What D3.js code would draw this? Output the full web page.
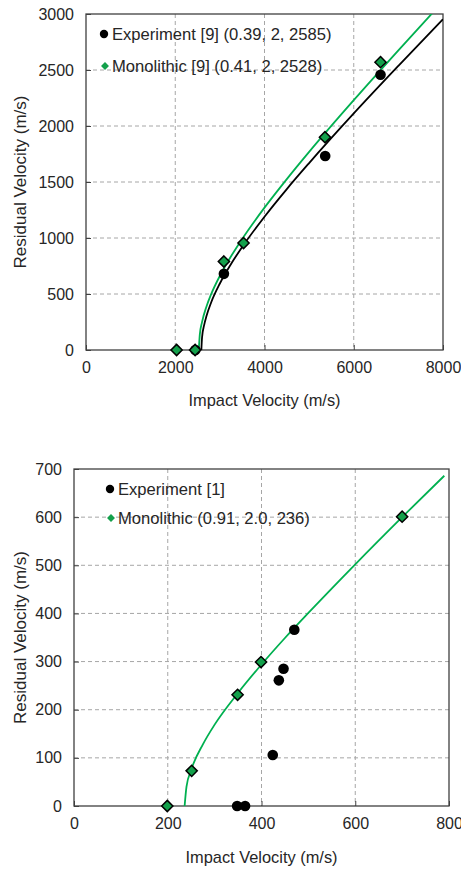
<!DOCTYPE html>
<html lang="en">
<head>
<meta charset="UTF-8">
<title>Residual velocity</title>
<script src="https://cdn.jsdelivr.net/npm/d3@7"></script>
<style>
    body { margin: 0; background: #fff; }
    svg text { font-family: "Liberation Sans", Arial, sans-serif; fill: #262626; }
    .grid line { stroke: #a6a6a6; stroke-dasharray: 4,3; stroke-width: 1; }
    .axis path, .axis line { stroke: #404040; }
    .axis text { font-size: 16px; }
</style>
</head>
<body>
<script>
// ---- top panel data ----
const topXTicks = [0, 2000, 4000, 6000, 8000];
const topYTicks = [0, 500, 1000, 1500, 2000, 2500, 3000];
const topExpVi = [2450, 3090, 5360, 6600];
const topExpVr = [0, 680, 1732, 2457];
const topMonoVi = [2030, 2445, 3090, 3530, 5355, 6600];
const topMonoVr = [0, 0, 790, 955, 1900, 2570];
// fit curves (Lambert-Jonas, legend params)
const topExpFitVi = [2585, 2600, 2650, 2700, 2800, 3000, 3250, 3500, 4000, 4500, 5000, 6000, 7000, 8000];
const topExpFitVr = [0, 109, 227, 304, 420, 594, 768, 920, 1190, 1437, 1669, 2112, 2537, 2953];
const topMonoFitVi = [2528, 2550, 2600, 2700, 2800, 3000, 3250, 3500, 4000, 4500, 5000, 6000, 7000, 8000];
const topMonoFitVr = [0, 137, 249, 389, 494, 662, 837, 992, 1271, 1526, 1769, 2231, 2676, 3112];
const topLegend = ["Experiment [9] (0.39, 2, 2585)", "Monolithic [9] (0.41, 2, 2528)"];

// ---- bottom panel data ----
const botXTicks = [0, 200, 400, 600, 800];
const botYTicks = [0, 100, 200, 300, 400, 500, 600, 700];
const botExpVi = [348, 365, 424, 437, 447, 470];
const botExpVr = [0, 0, 106, 261, 285, 366];
const botMonoVi = [199, 251, 349, 399, 700];
const botMonoVr = [0, 73, 231, 299, 601];
const botMonoFitVi = [236, 240, 250, 275, 300, 350, 400, 450, 500, 600, 700, 790];
const botMonoFitVr = [0, 40, 75, 128, 169, 235, 294, 349, 401, 502, 600, 686];
const botLegend = ["Experiment [1]", "Monolithic (0.91, 2.0, 236)"];

const green = "#00b050";
const greenFill = "#13a04b";

const svg = d3.select("body").append("svg")
    .attr("width", 461).attr("height", 869);

function zip(xs, ys) { return xs.map((x, i) => [x, ys[i]]); }

function panel(cfg) {
    const g = svg.append("g");
    const x = d3.scaleLinear().domain(cfg.xDomain).range([cfg.left, cfg.right]);
    const y = d3.scaleLinear().domain(cfg.yDomain).range([cfg.bottom, cfg.top]);

    // grid
    const grid = g.append("g").attr("class", "grid");
    grid.selectAll(".vx").data(cfg.xTicks.slice(1, -1)).enter().append("line")
        .attr("x1", d => x(d)).attr("x2", d => x(d))
        .attr("y1", cfg.top).attr("y2", cfg.bottom);
    grid.selectAll(".hy").data(cfg.yTicks.slice(1, -1)).enter().append("line")
        .attr("x1", cfg.left).attr("x2", cfg.right)
        .attr("y1", d => y(d)).attr("y2", d => y(d));

    // axes
    g.append("g").attr("class", "axis")
        .attr("transform", "translate(0," + cfg.bottom + ")")
        .call(d3.axisBottom(x).tickValues(cfg.xTicks).tickSize(-5).tickPadding(12).tickFormat(d3.format("d")))
        .call(a => a.select(".domain").remove());
    g.append("g").attr("class", "axis")
        .attr("transform", "translate(" + cfg.left + ",0)")
        .call(d3.axisLeft(y).tickValues(cfg.yTicks).tickSize(-5).tickPadding(12).tickFormat(d3.format("d")))
        .call(a => a.select(".domain").remove());

    // frame
    g.append("rect")
        .attr("x", cfg.left).attr("y", cfg.top)
        .attr("width", cfg.right - cfg.left).attr("height", cfg.bottom - cfg.top)
        .attr("fill", "none").attr("stroke", "#404040").attr("stroke-width", 1.3);

    const clipId = "clip" + cfg.id;
    svg.append("clipPath").attr("id", clipId).append("rect")
        .attr("x", cfg.left).attr("y", cfg.top)
        .attr("width", cfg.right - cfg.left).attr("height", cfg.bottom - cfg.top);

    const line = d3.line().x(d => x(d[0])).y(d => y(d[1])).curve(d3.curveMonotoneX);
    cfg.fits.forEach(f => {
        g.append("path").datum(f.pts)
            .attr("clip-path", "url(#" + clipId + ")")
            .attr("d", line).attr("fill", "none")
            .attr("stroke", f.color).attr("stroke-width", 1.8);
    });

    // experiment circles
    g.selectAll(".exp").data(cfg.exp).enter().append("circle")
        .attr("cx", d => x(d[0])).attr("cy", d => y(d[1]))
        .attr("r", 5.3).attr("fill", "#000");

    // monolithic diamonds
    const dia = d3.symbol().type(d3.symbolDiamond2).size(80);
    g.selectAll(".mono").data(cfg.mono).enter().append("path")
        .attr("d", dia)
        .attr("transform", d => "translate(" + x(d[0]) + "," + y(d[1]) + ")")
        .attr("fill", greenFill).attr("stroke", "#000").attr("stroke-width", 1.5);

    // legend
    const lg = g.append("g");
    lg.append("circle").attr("cx", cfg.legX).attr("cy", cfg.legY).attr("r", 4.2).attr("fill", "#000");
    lg.append("path").attr("d", d3.symbol().type(d3.symbolDiamond2).size(40))
        .attr("transform", "translate(" + (cfg.legX + 1) + "," + (cfg.legY + cfg.legGap) + ")")
        .attr("fill", greenFill);
    lg.selectAll("text").data(cfg.legend).enter().append("text")
        .attr("x", cfg.legX + 8).attr("y", (d, i) => cfg.legY + i * cfg.legGap + 5.8)
        .style("font-size", "16.6px").text(d => d);

    // titles
    g.append("text")
        .attr("x", (cfg.left + cfg.right) / 2).attr("y", cfg.xTitleY)
        .attr("text-anchor", "middle").style("font-size", "16.4px")
        .text("Impact Velocity (m/s)");
    g.append("text")
        .attr("transform", "translate(" + cfg.yTitleX + "," + ((cfg.top + cfg.bottom) / 2) + ") rotate(-90)")
        .attr("text-anchor", "middle").style("font-size", "17px")
        .text("Residual Velocity (m/s)");
}

panel({
    id: "a",
    xDomain: [0, 8000], yDomain: [0, 3000],
    left: 86, right: 443, top: 14, bottom: 350,
    xTicks: topXTicks, yTicks: topYTicks,
    exp: zip(topExpVi, topExpVr), mono: zip(topMonoVi, topMonoVr),
    fits: [
        { pts: zip(topExpFitVi, topExpFitVr), color: "#000" },
        { pts: zip(topMonoFitVi, topMonoFitVr), color: green }
    ],
    legX: 104, legY: 34, legGap: 32, legend: topLegend,
    xTitleY: 406, yTitleX: 26
});

panel({
    id: "b",
    xDomain: [0, 800], yDomain: [0, 700],
    left: 74, right: 449, top: 469, bottom: 806,
    xTicks: botXTicks, yTicks: botYTicks,
    exp: zip(botExpVi, botExpVr), mono: zip(botMonoVi, botMonoVr),
    fits: [
        { pts: zip(botMonoFitVi, botMonoFitVr), color: green }
    ],
    legX: 110, legY: 489, legGap: 29, legend: botLegend,
    xTitleY: 863, yTitleX: 26
});
</script>
</body>
</html>
